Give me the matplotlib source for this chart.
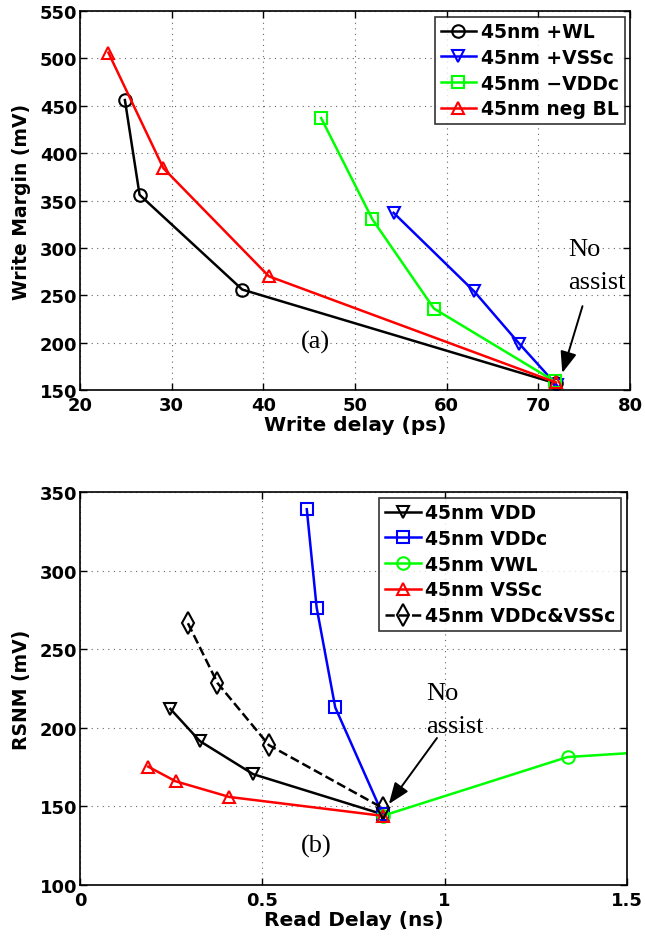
import matplotlib
matplotlib.use("Agg")
import matplotlib.pyplot as plt

plt.rcParams['font.family'] = ['DejaVu Sans']

# ---- (a) write assist techniques ----
wl_delay = [24.9, 26.5, 37.7, 71.9]
wl_margin = [456, 356, 256, 157]
vssc_delay = [54.2, 63.0, 67.9, 72.0]
vssc_margin = [337, 254, 199, 155]
vddc_delay = [46.3, 51.9, 58.6, 71.8]
vddc_margin = [437, 330, 236, 159]
negbl_delay = [23.1, 29.1, 40.6, 71.9]
negbl_margin = [506, 384, 270, 158]
write_labels = ['45nm +WL', '45nm +VSSc', '45nm \u2212VDDc', '45nm neg BL']
write_xticks = [20, 30, 40, 50, 60, 70, 80]
write_yticks = [150, 200, 250, 300, 350, 400, 450, 500, 550]

# ---- (b) read assist techniques ----
vdd_rd = [0.248, 0.329, 0.475, 0.83]
vdd_snm = [212, 191.5, 170.5, 145]
vddc_rd = [0.622, 0.649, 0.70, 0.83]
vddc_snm = [339, 276.5, 213, 145]
vwl_rd = [0.83, 1.337, 1.85]
vwl_snm = [144, 181.4, 189]
vssc_rd = [0.187, 0.262, 0.41, 0.83]
vssc_snm = [175.3, 166, 156, 144]
both_rd = [0.296, 0.377, 0.518, 0.83]
both_snm = [266.5, 228.5, 189, 149]
read_labels = ['45nm VDD', '45nm VDDc', '45nm VWL', '45nm VSSc', '45nm VDDc&VSSc']
read_xticks = [0, 0.5, 1, 1.5]
read_xticklabels = ['0', '0.5', '1', '1.5']
read_yticks = [100, 150, 200, 250, 300, 350]

fig = plt.figure(figsize=(6.45, 9.37), dpi=100)
ax1 = fig.add_axes([0.124, 0.5827, 0.853, 0.4045])
ax2 = fig.add_axes([0.124, 0.0544, 0.848, 0.4195])

lw = 1.8
ms = 9
mew = 1.5
serif = ['Liberation Serif', 'DejaVu Serif']
note_kw = dict(family=serif, fontsize=19, fontweight='normal', va='center')
arrow_kw = dict(arrowstyle='-|>,head_length=0.65,head_width=0.25', color='k',
                lw=1.4, mutation_scale=20, shrinkA=0, shrinkB=0)


def style_axes(ax):
    ax.tick_params(direction='in', top=True, right=True, length=5, width=1,
                   labelsize=13)
    ax.tick_params(axis='x', pad=4)
    ax.tick_params(axis='y', pad=2)
    for lab in ax.get_xticklabels() + ax.get_yticklabels():
        lab.set_fontweight('bold')
    for s in ax.spines.values():
        s.set_linewidth(1.2)
    ax.grid(True, linestyle=(0, (1, 4)), color='0.4', linewidth=0.8)
    ax.set_axisbelow(True)


def add_legend(ax):
    leg = ax.legend(loc='upper right', frameon=True, fancybox=False,
                    edgecolor='k', borderpad=0.3, labelspacing=0.36,
                    handlelength=1.9, handletextpad=0.25, borderaxespad=0.3,
                    prop=dict(size=13.5, weight='bold'))
    leg.get_frame().set_linewidth(1.2)
    return leg


# (a)
series_a = [
    (wl_delay, wl_margin, 'k', 'o'),
    (vssc_delay, vssc_margin, 'b', 'v'),
    (vddc_delay, vddc_margin, (0, 1, 0), 's'),
    (negbl_delay, negbl_margin, 'r', '^'),
]
for (x, y, c, m), lab in zip(series_a, write_labels):
    ax1.plot(x, y, color=c, marker=m, markersize=ms if m != 's' else 8,
             markerfacecolor='none', markeredgewidth=mew, linewidth=lw,
             label=lab)
ax1.set_xlim(20, 80)
ax1.set_ylim(150, 550)
ax1.set_xticks(write_xticks)
ax1.set_yticks(write_yticks)
style_axes(ax1)
ax1.set_xlabel('Write delay (ps)', fontsize=14.5, fontweight='bold', labelpad=1)
ax1.set_ylabel('Write Margin (mV)', fontsize=13.5, fontweight='bold', labelpad=6)
add_legend(ax1)
ax1.text(73.2, 299, 'No', ha='left', **note_kw)
ax1.text(73.2, 264, 'assist', ha='left', **note_kw)
ax1.annotate('', xy=(72.6, 168), xytext=(74.8, 238.5), arrowprops=arrow_kw)
ax1.text(45.7, 201, '(a)', ha='center', **note_kw)

# (b)
series_b = [
    (vdd_rd, vdd_snm, 'k', 'v', '-', ms),
    (vddc_rd, vddc_snm, 'b', 's', '-', 8),
    (vwl_rd, vwl_snm, (0, 1, 0), 'o', '-', ms),
    (vssc_rd, vssc_snm, 'r', '^', '-', ms),
    (both_rd, both_snm, 'k', 'd', '--', 11),
]
for (x, y, c, m, ls, size), lab in zip(series_b, read_labels):
    ax2.plot(x, y, color=c, marker=m, linestyle=ls, markersize=size,
             markerfacecolor='none', markeredgewidth=mew, linewidth=lw,
             label=lab)
ax2.set_xlim(0, 1.5)
ax2.set_ylim(100, 350)
ax2.set_xticks(read_xticks)
ax2.set_xticklabels(read_xticklabels)
ax2.set_yticks(read_yticks)
style_axes(ax2)
ax2.set_xlabel('Read Delay (ns)', fontsize=14.5, fontweight='bold', labelpad=1)
ax2.set_ylabel('RSNM (mV)', fontsize=13.5, fontweight='bold', labelpad=6)
add_legend(ax2)
ax2.text(0.95, 222, 'No', ha='left', **note_kw)
ax2.text(0.95, 201, 'assist', ha='left', **note_kw)
ax2.annotate('', xy=(0.847, 151.5), xytext=(0.979, 193.5), arrowprops=arrow_kw)
ax2.text(0.648, 125, '(b)', ha='center', **note_kw)

fig.savefig('out.png', dpi=100)
